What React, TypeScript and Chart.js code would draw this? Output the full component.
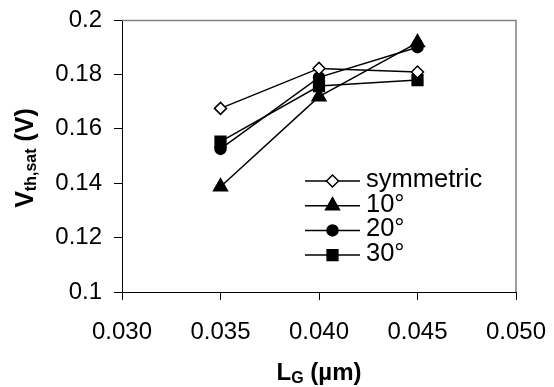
import React, { useEffect, useRef } from 'react';
import { Chart, registerables } from 'chart.js';
import { drawPoint } from 'chart.js/helpers';

Chart.register(...registerables);

// ---- data ----
const xValues = [0.035, 0.04, 0.045];
const symmetric = [0.1675, 0.1822, 0.1809];
const deg10 = [0.1387, 0.1718, 0.1917];
const deg20 = [0.1526, 0.1789, 0.19];
const deg30 = [0.1553, 0.1757, 0.1779];
const seriesNames = ['symmetric', '10°', '20°', '30°'];
const xTicks = [0.03, 0.035, 0.04, 0.045, 0.05];
const xTickLabels = ['0.030', '0.035', '0.040', '0.045', '0.050'];
const yTicks = [0.1, 0.12, 0.14, 0.16, 0.18, 0.2];
const yTickLabels = ['0.1', '0.12', '0.14', '0.16', '0.18', '0.2'];

const FONT = "Arial, 'Liberation Sans', sans-serif";

const markerStyles = [
  { pointStyle: 'rectRot', radius: 6, fill: '#ffffff' },
  { pointStyle: 'triangle', radius: 8, fill: '#000000' },
  { pointStyle: 'circle', radius: 5.5, fill: '#000000' },
  { pointStyle: 'rect', radius: 7.6, fill: '#000000' },
];

const allSeries = [symmetric, deg10, deg20, deg30];

const framePlugin = {
  id: 'frame',
  beforeDatasetsDraw(chart: any) {
    const { ctx, chartArea: ca } = chart;
    ctx.save();
    ctx.strokeStyle = '#808080';
    ctx.lineWidth = 1.5;
    ctx.beginPath();
    ctx.moveTo(ca.left, ca.top + 0.5);
    ctx.lineTo(ca.right, ca.top + 0.5);
    ctx.lineTo(ca.right, ca.bottom);
    ctx.stroke();
    ctx.restore();
  },
};

const legendPlugin = {
  id: 'insideLegend',
  afterDraw(chart: any) {
    const { ctx, chartArea: ca } = chart;
    const lineX0 = ca.left + 183;
    const lineX1 = ca.left + 238;
    const markX = (lineX0 + lineX1) / 2;
    const textX = ca.left + 244;
    const y0 = ca.top + 161;
    const dy = 24.7;
    ctx.save();
    seriesNames.forEach((name, i) => {
      const y = y0 + i * dy;
      ctx.strokeStyle = '#000';
      ctx.lineWidth = 1.5;
      ctx.beginPath();
      ctx.moveTo(lineX0, y);
      ctx.lineTo(lineX1, y);
      ctx.stroke();
      const m = markerStyles[i];
      ctx.fillStyle = m.fill;
      ctx.strokeStyle = '#000';
      ctx.lineWidth = 1.5;
      drawPoint(ctx, { pointStyle: m.pointStyle as any, radius: m.radius, rotation: 0, borderWidth: 1.5 }, markX, y);
      ctx.fillStyle = '#000';
      ctx.font = `25.5px ${FONT}`;
      ctx.textAlign = 'left';
      ctx.textBaseline = 'middle';
      ctx.fillText(name, textX, y - 1);
    });
    ctx.restore();
  },
};

const titlesPlugin = {
  id: 'axisTitles',
  afterDraw(chart: any) {
    const { ctx, chartArea: ca } = chart;
    ctx.save();
    ctx.fillStyle = '#000';
    ctx.textBaseline = 'alphabetic';
    ctx.textAlign = 'left';

    // Y title: V_th,sat (V)
    const yParts = [
      { t: 'V', f: `bold 25px ${FONT}`, dy: 0 },
      { t: 'th,sat', f: `bold 16px ${FONT}`, dy: 3 },
      { t: ' (V)', f: `bold 25px ${FONT}`, dy: 0 },
    ];
    let total = 0;
    yParts.forEach((p) => {
      ctx.font = p.f;
      total += ctx.measureText(p.t).width;
    });
    ctx.translate(33, (ca.top + ca.bottom) / 2 + 2);
    ctx.rotate(-Math.PI / 2);
    let x = -total / 2;
    yParts.forEach((p) => {
      ctx.font = p.f;
      ctx.fillText(p.t, x, p.dy);
      x += ctx.measureText(p.t).width;
    });
    ctx.setTransform(1, 0, 0, 1, 0, 0);

    // X title: L_G (µm)
    const xParts = [
      { t: 'L', f: `bold 24px ${FONT}`, dy: 0 },
      { t: 'G', f: `bold 16px ${FONT}`, dy: 3 },
      { t: ' (µm)', f: `bold 24px ${FONT}`, dy: 0 },
    ];
    total = 0;
    xParts.forEach((p) => {
      ctx.font = p.f;
      total += ctx.measureText(p.t).width;
    });
    x = (ca.left + ca.right) / 2 - total / 2;
    const baseY = 380;
    xParts.forEach((p) => {
      ctx.font = p.f;
      ctx.fillText(p.t, x, baseY + p.dy);
      x += ctx.measureText(p.t).width;
    });
    ctx.restore();
  },
};

export default function App() {
  const canvasRef = useRef<HTMLCanvasElement | null>(null);

  useEffect(() => {
    const canvas = canvasRef.current;
    if (!canvas) return;
    const datasets = allSeries.map((vals, i) => ({
      label: seriesNames[i],
      data: xValues.map((x, j) => ({ x, y: vals[j] })),
      borderColor: '#000000',
      borderWidth: 1.5,
      backgroundColor: markerStyles[i].fill,
      pointBackgroundColor: markerStyles[i].fill,
      pointBorderColor: '#000000',
      pointBorderWidth: 1.5,
      pointStyle: markerStyles[i].pointStyle as any,
      pointRadius: markerStyles[i].radius,
      showLine: true,
      tension: 0,
      fill: false,
      clip: false as any,
    }));

    const tickFont = { family: FONT, size: 24 };

    const chart = new Chart(canvas, {
      type: 'line',
      data: { datasets },
      options: {
        responsive: false,
        animation: false,
        events: [],
        layout: { padding: { top: 20, right: 38, left: 0, bottom: 0 } },
        plugins: {
          legend: { display: false },
          tooltip: { enabled: false },
          title: { display: false },
        },
        scales: {
          x: {
            type: 'linear',
            min: 0.03,
            max: 0.05,
            afterBuildTicks: (scale: any) => {
              scale.ticks = xTicks.map((v) => ({ value: v }));
            },
            afterFit: (scale: any) => {
              scale.height = 95;
              scale.paddingLeft = 0;
              scale.paddingRight = 0;
              scale.paddingTop = 0;
              scale.paddingBottom = 0;
            },
            ticks: {
              callback: (_v: any, i: number) => xTickLabels[i],
              font: tickFont,
              color: '#000',
              padding: 18,
              maxRotation: 0,
              autoSkip: false,
            },
            grid: {
              drawOnChartArea: false,
              drawTicks: true,
              tickLength: 8,
              color: '#000',
              lineWidth: 1,
            },
            border: { display: true, color: '#000', width: 1 },
          },
          y: {
            type: 'linear',
            min: 0.1,
            max: 0.2,
            afterBuildTicks: (scale: any) => {
              scale.ticks = yTicks.map((v) => ({ value: v }));
            },
            afterFit: (scale: any) => {
              scale.width = 122;
              scale.paddingLeft = 0;
              scale.paddingRight = 0;
              scale.paddingTop = 0;
              scale.paddingBottom = 0;
            },
            ticks: {
              callback: (_v: any, i: number) => yTickLabels[i],
              font: tickFont,
              color: '#000',
              padding: 12,
              autoSkip: false,
            },
            grid: {
              drawOnChartArea: false,
              drawTicks: true,
              tickLength: 8,
              color: '#000',
              lineWidth: 1,
            },
            border: { display: true, color: '#000', width: 1 },
          },
        },
      },
      plugins: [framePlugin, legendPlugin, titlesPlugin],
    });
    return () => chart.destroy();
  }, []);

  return (
    <div style={{ position: 'fixed', left: 0, top: 0, width: 554, height: 387, background: '#fff' }}>
      <canvas ref={canvasRef} width={554} height={387} style={{ width: 554, height: 387, display: 'block' }} />
    </div>
  );
}
